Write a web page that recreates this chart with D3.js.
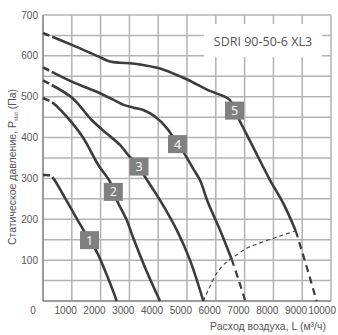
<!DOCTYPE html>
<html>
<head>
<meta charset="utf-8">
<script src="https://cdn.jsdelivr.net/npm/d3@7"></script>
<style>
  html, body { margin: 0; padding: 0; background: #fff; }
  svg { display: block; }
</style>
</head>
<body>
<svg id="chart" width="338" height="335"></svg>
<script>
// ---- data ----
const chartTitle = "SDRI 90-50-6 XL3";
const xTitle = "Расход воздуха, L (м³/ч)";
const flowTicks = [0, 1000, 2000, 3000, 4000, 5000, 6000, 7000, 8000, 9000, 10000];
const pressureTicks = [100, 200, 300, 400, 500, 600, 700];
const curveNames = ["1", "2", "3", "4", "5"];

const curve1 = [[0,308],[250,307],[358,300],[823,245],[1285,188],[1615,149],[1865,121],[2212,64],[2441,23],[2559,0]];
const curve2 = [[0,497],[358,484],[823,451],[1399,399],[1920,333],[2326,292],[2441,267],[2587,243],[2906,198],[3135,154],[3601,72],[4062,0]];
const curve3 = [[0,540],[997,498],[1691,443],[2212,410],[2674,382],[2962,357],[3333,329],[3542,304],[4063,247],[4642,174],[5104,100],[5566,0]];
const curve4 = [[0,572],[1000,537],[2000,508],[2400,494],[2800,480],[3150,473],[3500,467],[3900,451],[4300,423],[4670,384],[4870,365],[5240,321],[5450,296],[5740,239],[6146,174],[6552,102]];
const curve5 = [[0,656],[1000,627],[2000,596],[2330,586],[2670,583],[3020,582],[3370,579],[4000,570],[4520,557],[5045,541],[5730,516],[6310,500],[6490,492],[6650,466],[6816,443],[7344,370],[7882,296],[8344,239],[8774,172]];
const tail4 = [[6552,102],[6800,50],[7024,0]];
const tail5 = [[8774,172],[9150,85],[9500,0]];
const systemCurve = [[5566,0],[5740,27],[6031,68],[6378,96],[6608,107],[7073,129],[7649,145],[8229,159],[8774,172]];
const labelPoints = [[1615,149],[2441,267],[3333,329],[4670,384],[6649,466]];

// ---- drawing ----
const svg = d3.select("#chart");
const x = d3.scaleLinear().domain([0, 10000]).range([43, 331]);
const y = d3.scaleLinear().domain([0, 700]).range([301, 15]);

svg.append("rect").attr("width", 338).attr("height", 335).attr("fill", "#fff");

const grid = svg.append("g");
grid.selectAll("line.v").data(d3.range(0, 10001, 1000)).join("line")
  .attr("x1", d => x(d)).attr("x2", d => x(d))
  .attr("y1", y(0)).attr("y2", y(700))
  .attr("stroke", "#b3b3b3").attr("stroke-width", 1.5);
grid.selectAll("line.h").data(d3.range(0, 701, 50)).join("line")
  .attr("x1", x(0)).attr("x2", x(10000))
  .attr("y1", d => y(d)).attr("y2", d => y(d))
  .attr("stroke", "#b3b3b3").attr("stroke-width", 1.5);

// axes lines
svg.append("line").attr("x1", x(0)).attr("x2", x(0)).attr("y1", y(0)).attr("y2", y(700))
  .attr("stroke", "#8c8c8c").attr("stroke-width", 1.5);
svg.append("line").attr("x1", x(0)).attr("x2", x(10000)).attr("y1", y(0)).attr("y2", y(0))
  .attr("stroke", "#8c8c8c").attr("stroke-width", 1.5);

// tick labels
const tickFont = "'Liberation Sans', Arial, sans-serif";
svg.append("g").selectAll("text").data(flowTicks).join("text")
  .attr("x", d => d === 0 ? x(0) - 10 : x(d) + 5)
  .attr("y", 314)
  .attr("text-anchor", d => d === 0 ? "middle" : "end")
  .attr("font-family", tickFont).attr("font-size", 10).attr("fill", "#555")
  .text(d => d);
svg.append("g").selectAll("text").data(pressureTicks).join("text")
  .attr("x", 38).attr("y", d => y(d) + 3.5)
  .attr("text-anchor", "end")
  .attr("font-family", tickFont).attr("font-size", 10).attr("fill", "#555")
  .text(d => d);

// axis titles
svg.append("text").attr("x", 326).attr("y", 330).attr("text-anchor", "end")
  .attr("font-family", tickFont).attr("font-size", 10.5).attr("fill", "#555")
  .text(xTitle);
const yt = svg.append("text")
  .attr("transform", "translate(16,167) rotate(-90)")
  .attr("text-anchor", "middle")
  .attr("font-family", tickFont).attr("font-size", 10.5).attr("fill", "#555");
yt.append("tspan").text("Статическое давление, P");
yt.append("tspan").attr("font-size", 5.5).attr("dy", 2).text("stat");
yt.append("tspan").attr("dy", -2).text(" (Па)");

// curves
const line = d3.line().x(d => x(d[0])).y(d => y(d[1])).curve(d3.curveCatmullRom.alpha(0.5));
const curves = [curve1, curve2, curve3, curve4, curve5];
svg.append("g").selectAll("path").data(curves).join("path")
  .attr("d", line)
  .attr("fill", "none").attr("stroke", "#3c3c3c").attr("stroke-width", 2.6)
  .attr("stroke-dasharray", "7,3,3000");
svg.append("g").selectAll("path").data([tail4, tail5]).join("path")
  .attr("d", line)
  .attr("fill", "none").attr("stroke", "#3c3c3c").attr("stroke-width", 2.2)
  .attr("stroke-dasharray", "7,5");
svg.append("path").datum(systemCurve).attr("d", line)
  .attr("fill", "none").attr("stroke", "#3c3c3c").attr("stroke-width", 1.1)
  .attr("stroke-dasharray", "4,3");

// curve labels
const lab = svg.append("g").selectAll("g").data(labelPoints).join("g")
  .attr("transform", d => `translate(${x(d[0])},${y(d[1])})`);
lab.append("rect").attr("x", -9.5).attr("y", -9).attr("width", 19).attr("height", 18)
  .attr("fill", "#808080");
lab.append("text").attr("text-anchor", "middle").attr("y", 4.5)
  .attr("font-family", "'Open Sans', sans-serif").attr("font-size", 12.5).attr("fill", "#fff")
  .text((d, i) => curveNames[i]);

// title box
svg.append("rect").attr("x", 204).attr("y", 24).attr("width", 118).attr("height", 33).attr("fill", "#fff");
svg.append("text").attr("x", 263).attr("y", 45.5).attr("text-anchor", "middle")
  .attr("font-family", "'Open Sans', sans-serif").attr("font-size", 12.5).attr("fill", "#555")
  .text(chartTitle);
</script>
</body>
</html>
